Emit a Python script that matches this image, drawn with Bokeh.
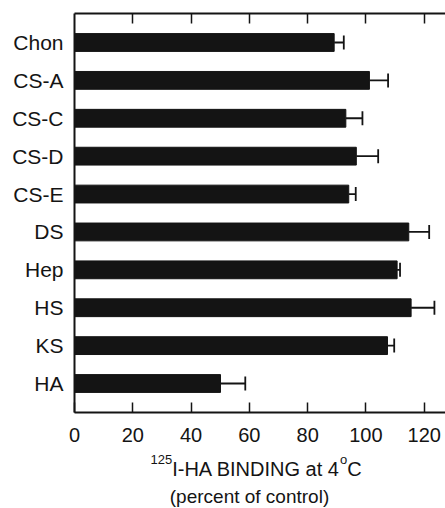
from bokeh.plotting import figure
from bokeh.layouts import column
from bokeh.models import (ColumnDataSource, FactorRange, Range1d, LinearAxis, CategoricalAxis,
                          FixedTicker, Whisker, TeeHead, CustomJSTickFormatter)
from bokeh.core.properties import value
from bokeh.embed import file_html
from bokeh.resources import INLINE

# ---- data ----
categories = ["Chon", "CS-A", "CS-C", "CS-D", "CS-E", "DS", "Hep", "HS", "KS", "HA"]
binding = [89.1, 101.2, 93.1, 96.7, 94.1, 114.7, 110.7, 115.5, 107.4, 50.1]
errors = [3.3, 6.4, 5.7, 7.5, 2.4, 7.0, 1.0, 8.0, 2.3, 8.5]
x_ticks = [0, 20, 40, 60, 80, 100, 120]

FONT = "Liberation Sans"
INK = "#141414"

src = ColumnDataSource(dict(
    cat=categories,
    val=binding,
    upper=[v + e for v, e in zip(binding, errors)],
))

p = figure(
    width=445, height=450,
    y_range=FactorRange(factors=categories[::-1], range_padding=0.053),
    x_range=Range1d(0, 127.3),
    output_backend="svg", toolbar_location=None,
    x_axis_location=None, y_axis_location=None,
    min_border_left=74, min_border_right=0, min_border_top=13, min_border_bottom=38,
)
p.outline_line_color = None
p.xgrid.visible = False
p.ygrid.visible = False
p.background_fill_color = "white"
p.border_fill_color = "white"

p.hbar(y="cat", right="val", left=0, height=0.47, source=src,
       fill_color=INK, line_color=INK)

w = Whisker(base="cat", lower="val", upper="upper", dimension="width", source=src,
            line_color=INK, line_width=1.8, lower_head=None,
            upper_head=TeeHead(size=14, line_color=INK, line_width=1.8))
p.add_layout(w)

# axes
yax = CategoricalAxis()
yax.axis_line_width = 2
yax.axis_line_color = INK
yax.major_tick_in = 0
yax.major_tick_out = 0
yax.minor_tick_line_color = None
yax.major_label_standoff = 11
yax.major_label_text_font = FONT
yax.major_label_text_font_size = "21px"
yax.major_label_text_color = INK
p.add_layout(yax, "left")

xax = LinearAxis(ticker=FixedTicker(ticks=x_ticks))
xax.axis_line_width = 2
xax.axis_line_color = INK
xax.major_tick_in = 10
xax.major_tick_out = 0
xax.major_tick_line_width = 1.5
xax.major_tick_line_color = INK
xax.minor_tick_line_color = None
xax.major_label_standoff = 15
xax.major_label_text_font = FONT
xax.major_label_text_font_size = "20px"
xax.major_label_text_color = INK
p.add_layout(xax, "below")

tax = LinearAxis(ticker=FixedTicker(ticks=x_ticks[1:]),
                 formatter=CustomJSTickFormatter(code="return ''"))
tax.axis_line_width = 2
tax.axis_line_color = INK
tax.major_tick_in = 10
tax.major_tick_out = 0
tax.major_tick_line_width = 1.5
tax.major_tick_line_color = INK
tax.minor_tick_line_color = None
tax.major_label_standoff = 0
p.add_layout(tax, "above")

# ---- x-axis title with superscripts, in a small strip below the chart ----
# strip frame uses the same horizontal borders as the chart; its data units are page pixels
t = figure(
    width=445, height=58,
    x_range=Range1d(74, 445), y_range=Range1d(0, 44),
    output_backend="svg", toolbar_location=None,
    x_axis_location=None, y_axis_location=None,
    min_border_left=74, min_border_right=0, min_border_top=0, min_border_bottom=0,
)
t.outline_line_color = None
t.xgrid.visible = False
t.ygrid.visible = False
t.border_fill_color = "white"
t.background_fill_color = "white"

def txt(s, x, y, size, align="left"):
    t.text(x=[x], y=[y], text=[s], text_font=value(FONT), text_font_size=value(size),
           text_color=INK, text_align=align, text_baseline="alphabetic")

base1 = 30
txt("125", 150, base1 + 7, "13px")
txt("I-HA BINDING at 4", 171.7, base1, "20px")
txt("o", 339.5, base1 + 7, "13px")
txt("C", 346.7, base1, "20px")
txt("(percent of control)", 249, 9, "19px", align="center")

open("out.html", "w").write(file_html(column(p, t), INLINE))
